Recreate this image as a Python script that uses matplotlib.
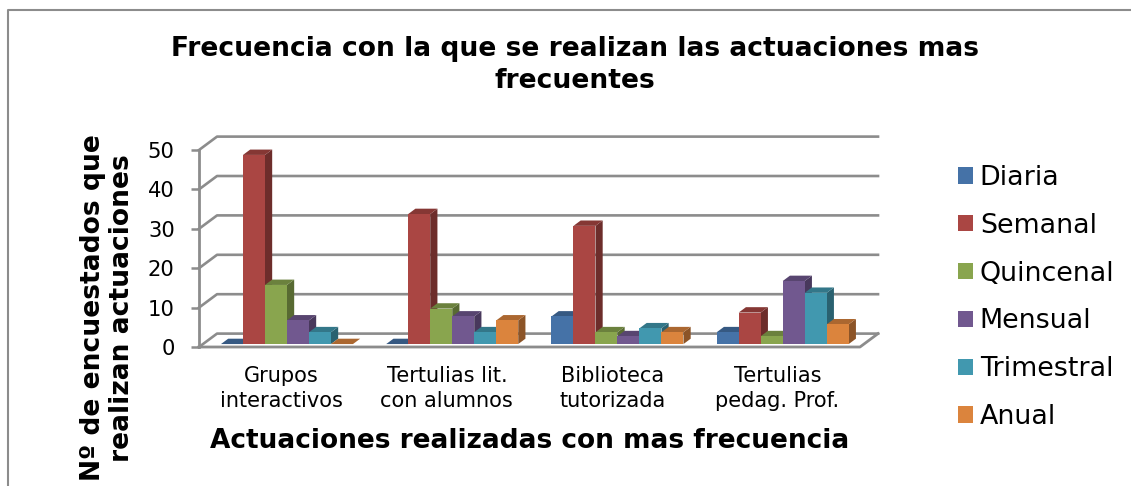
import matplotlib
matplotlib.use("Agg")
from matplotlib import pyplot as plt
from matplotlib.colors import to_rgb
from matplotlib.patches import Patch

categories = ["Grupos\ninteractivos", "Tertulias lit.\ncon alumnos",
              "Biblioteca\ntutorizada", "Tertulias\npedag. Prof."]
series_names = ["Diaria", "Semanal", "Quincenal", "Mensual", "Trimestral", "Anual"]
diaria = [0, 0, 7, 3]
semanal = [48, 33, 30, 8]
quincenal = [15, 9, 3, 2]
mensual = [6, 7, 2, 16]
trimestral = [3, 3, 4, 13]
anual = [0, 6, 3, 5]
series_values = [diaria, semanal, quincenal, mensual, trimestral, anual]
series_colors = ["#4572A7", "#AA4643", "#89A54E", "#71588F", "#4198AF", "#DB843D"]
y_ticks = [0, 10, 20, 30, 40, 50]

W, H = 1131, 486
GRAY = "#8c8c8c"

# size of the fake 3d depth, in data units
DEPTH_X = 0.109
DEPTH_Y = 3.4
BAR_W = 22 / 165.25
BAR_START = 0.109
BAR_FRONT = 0.22
BAR_BACK = 0.62


def shade(color, factor):
    return tuple(c * factor for c in to_rgb(color))


def plane(x, y, depth):
    return x + depth * DEPTH_X, y + depth * DEPTH_Y


def quad(ax, points, color, zorder):
    xs = [p[0] for p in points]
    ys = [p[1] for p in points]
    ax.fill(xs, ys, facecolor=color, edgecolor="none", zorder=zorder, clip_on=False)


def draw_bar(ax, x, value, color, zorder):
    x2 = x + BAR_W
    # right side
    if value > 0:
        quad(ax, [plane(x2, 0, BAR_FRONT), plane(x2, value, BAR_FRONT),
                  plane(x2, value, BAR_BACK), plane(x2, 0, BAR_BACK)],
             shade(color, 0.64), zorder)
    # top
    quad(ax, [plane(x, value, BAR_FRONT), plane(x2, value, BAR_FRONT),
              plane(x2, value, BAR_BACK), plane(x, value, BAR_BACK)],
         shade(color, 0.78), zorder)
    # front
    if value > 0:
        quad(ax, [plane(x, 0, BAR_FRONT), plane(x2, 0, BAR_FRONT),
                  plane(x2, value, BAR_FRONT), plane(x, value, BAR_FRONT)],
             color, zorder + 0.1)


plt.rcParams["font.family"] = "DejaVu Sans"
fig = plt.figure(figsize=(W / 100, H / 100), dpi=100)
ax = fig.add_axes([199 / W, (H - 347) / H, 661 / W, 197 / H])
ax.set_xlim(0, len(categories))
ax.set_ylim(0, 50)
for spine in ax.spines.values():
    spine.set_visible(False)

# back wall lines and their diagonals
n = len(categories)
for tick in y_ticks:
    bx, by = plane(0, tick, 1)
    ex, ey = plane(n, tick, 1)
    ax.plot([0, bx, ex], [tick, by, ey], color=GRAY, lw=1.9, zorder=1, clip_on=False)

# floor
corners = [plane(0, 0, 0), plane(n, 0, 0), plane(n, 0, 1)]
ax.plot([p[0] for p in corners], [p[1] for p in corners], color=GRAY, lw=2,
        zorder=1.5, clip_on=False)
ax.plot([0, 0], [0, 50], color=GRAY, lw=2, zorder=1.5, clip_on=False)

for g in range(n):
    for s, values in enumerate(series_values):
        x = g + BAR_START + s * BAR_W
        draw_bar(ax, x, values[g], series_colors[s], 2 + g + s * 0.2)

ax.set_yticks(y_ticks)
ax.set_xticks([i + 0.5 for i in range(n)])
ax.set_xticklabels(categories, fontsize=15, linespacing=1.27)
ax.tick_params(axis="x", length=0, pad=14)
ax.tick_params(axis="y", length=6, width=1.8, color=GRAY, labelsize=15.2, pad=11.5)

ax.set_xlabel("Actuaciones realizadas con mas frecuencia", fontsize=19,
              fontweight="bold", va="center")
ax.xaxis.set_label_coords(0.5, -0.477)
ax.set_ylabel("Nº de encuestados que\nrealizan actuaciones", fontsize=19.1,
              fontweight="bold", va="center", ha="center", linespacing=1.15)
ax.yaxis.set_label_coords(-0.139, 0.198)

fig.text(575 / W, (H - 65.5) / H,
         "Frecuencia con la que se realizan las actuaciones mas\nfrecuentes",
         fontsize=19.1, fontweight="bold", ha="center", va="center", linespacing=1.3)

handles = [Patch(facecolor=c, edgecolor="none") for c in series_colors]
fig.legend(handles, series_names, loc="upper left", bbox_to_anchor=(958 / W, (H - 165) / H),
           frameon=False, fontsize=19.4, handlelength=0.55, handleheight=0.55,
           handletextpad=0.26, labelspacing=0.81, borderpad=0, borderaxespad=0)

# outer chart frame, only top and left are inside the crop
fig.add_artist(plt.Line2D([7.5 / W, 7.5 / W, 1], [0, (H - 10.5) / H, (H - 10.5) / H],
                          color=GRAY, lw=1.5))

fig.savefig("out.png", dpi=100)
